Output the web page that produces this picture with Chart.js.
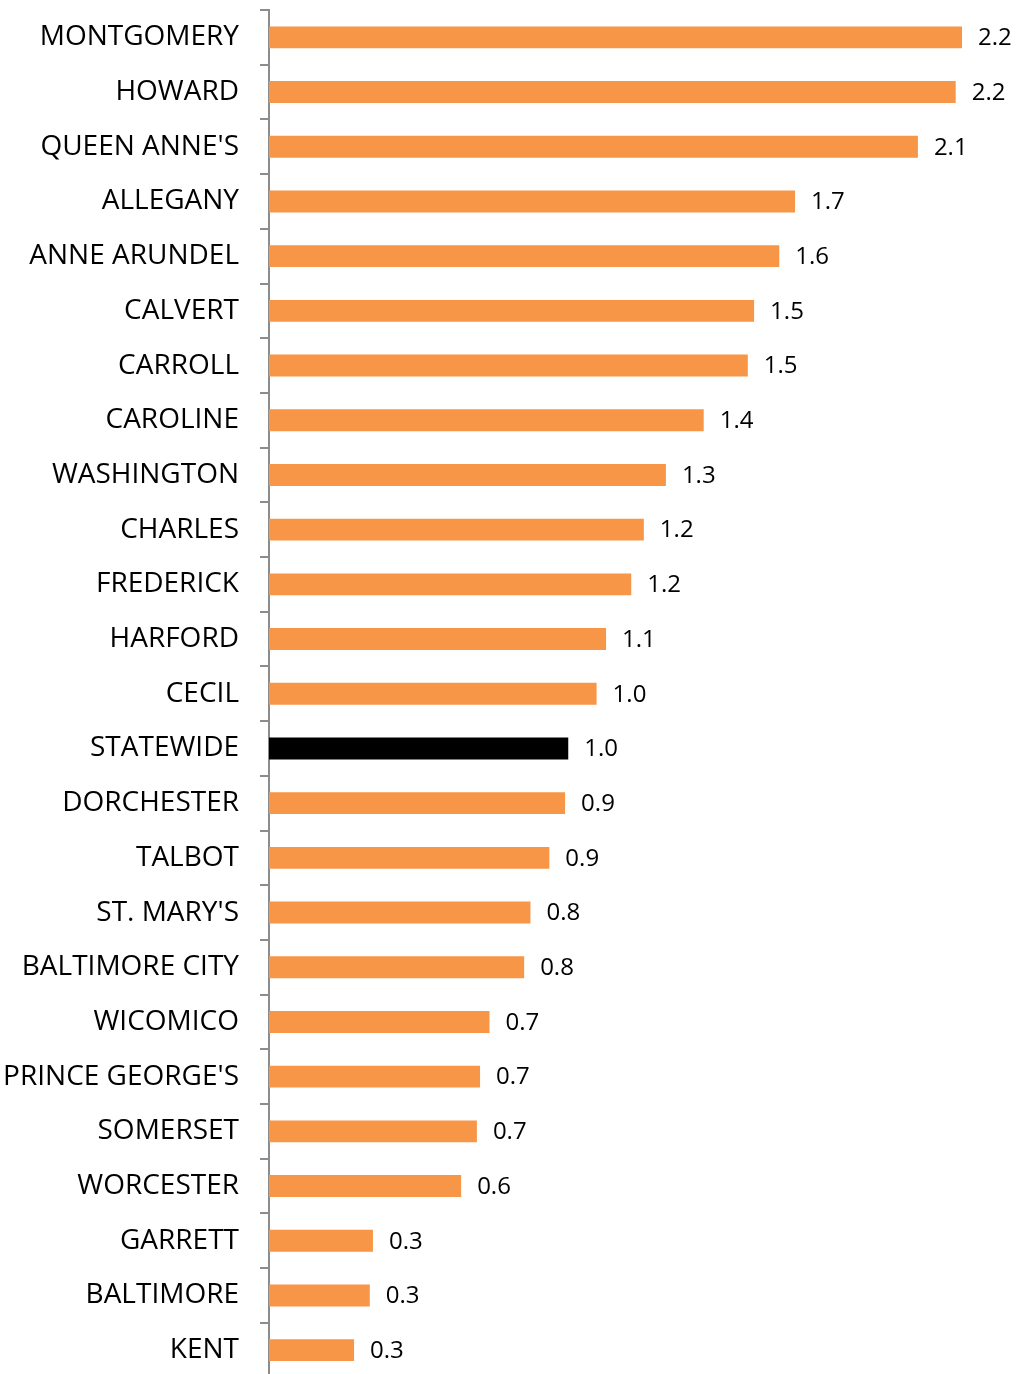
<!DOCTYPE html>
<html>
<head>
<meta charset="utf-8">
<script src="https://cdn.jsdelivr.net/npm/chart.js@4.4.1/dist/chart.umd.min.js"></script>
<style>
  html, body { margin: 0; padding: 0; background: #fff; overflow: hidden; }
  #wrap { width: 1016px; height: 1380px; position: relative; }
</style>
</head>
<body>
<div id="wrap"><canvas id="countyChart"></canvas></div>
<script>
// ===== Data =====
const counties = ['MONTGOMERY', 'HOWARD', "QUEEN ANNE'S", 'ALLEGANY', 'ANNE ARUNDEL', 'CALVERT',
  'CARROLL', 'CAROLINE', 'WASHINGTON', 'CHARLES', 'FREDERICK', 'HARFORD', 'CECIL', 'STATEWIDE',
  'DORCHESTER', 'TALBOT', "ST. MARY'S", 'BALTIMORE CITY', 'WICOMICO', "PRINCE GEORGE'S",
  'SOMERSET', 'WORCESTER', 'GARRETT', 'BALTIMORE', 'KENT'];
const values = [2.20, 2.18, 2.06, 1.67, 1.62, 1.54, 1.52, 1.38, 1.26, 1.19, 1.15, 1.07, 1.04, 0.95,
  0.94, 0.89, 0.83, 0.81, 0.70, 0.67, 0.66, 0.61, 0.33, 0.32, 0.27];
const valueLabels = ['2.2', '2.2', '2.1', '1.7', '1.6', '1.5', '1.5', '1.4', '1.3', '1.2', '1.2', '1.1',
  '1.0', '1.0', '0.9', '0.9', '0.8', '0.8', '0.7', '0.7', '0.7', '0.6', '0.3', '0.3', '0.3'];
const highlight = 'STATEWIDE';

const ORANGE = '#F79646';
const AXIS_GREY = '#8c8c8c';

// ===== labels at bar end =====
const barLabels = {
  id: 'barLabels',
  afterDatasetsDraw(chart) {
    const { ctx } = chart;
    const meta = chart.getDatasetMeta(0);
    ctx.save();
    ctx.font = '24px "Open Sans"';
    ctx.fillStyle = '#000';
    ctx.textAlign = 'left';
    ctx.textBaseline = 'middle';
    meta.data.forEach((bar, i) => {
      ctx.fillText(valueLabels[i], bar.x + 16, bar.y + 1);
    });
    ctx.restore();
  }
};

const ctx = document.getElementById('countyChart').getContext('2d');
new Chart(ctx, {
  type: 'bar',
  data: {
    labels: counties,
    datasets: [{
      data: values,
      backgroundColor: counties.map(c => c === highlight ? '#000000' : ORANGE),
      barPercentage: 0.4,
      categoryPercentage: 1.0
    }]
  },
  options: {
    indexAxis: 'y',
    responsive: true,
    maintainAspectRatio: false,
    animation: false,
    layout: { padding: { top: 10, right: 22.5, bottom: 2.5, left: 0 } },
    plugins: { legend: { display: false }, tooltip: { enabled: false } },
    scales: {
      x: { display: false, min: 0, max: 2.3 },
      y: {
        // keep axis at x=269 and stop label padding from shrinking the area vertically
        afterFit: s => { s.width = 269; s.paddingTop = 0; s.paddingBottom = 0; },
        grid: { drawOnChartArea: false, tickLength: 9, color: AXIS_GREY, lineWidth: 2 },
        border: { color: AXIS_GREY, width: 2 },
        ticks: {
          padding: 21,
          color: '#000',
          font: { family: '"Open Sans"', size: 28, lineHeight: 1.05 }
        }
      }
    }
  },
  plugins: [barLabels]
});
</script>
</body>
</html>
